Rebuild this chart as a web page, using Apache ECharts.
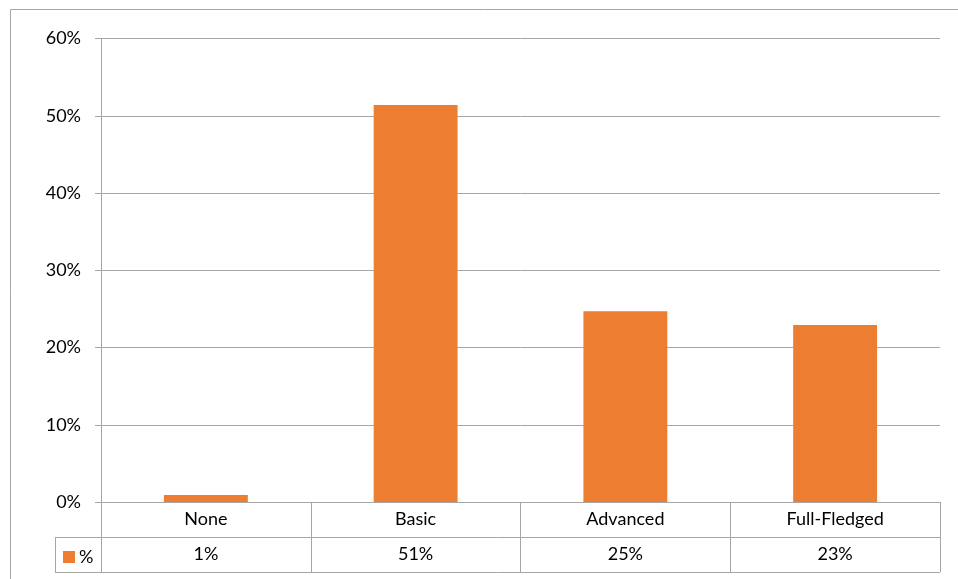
<!DOCTYPE html>
<html>
<head>
<meta charset="utf-8">
<script src="https://cdn.jsdelivr.net/npm/echarts@6/dist/echarts.min.js"></script>
<style>
  html, body { margin: 0; padding: 0; background: #fff; }
  #chart { width: 958px; height: 579px; }
</style>
</head>
<body>
<div id="chart"></div>
<script>
// Share of respondents by level of adoption
const categories = ['None', 'Basic', 'Advanced', 'Full-Fledged'];
const seriesName = '%';
const shares = [0.9, 51.4, 24.7, 22.9];
const yTicks = [0, 10, 20, 30, 40, 50, 60];

const FONT = 'Lato, "Open Sans", sans-serif';
const FS = 18;
const LINE = '#a6a6a6';
const BAR = '#ED7D31';

const chart = echarts.init(document.getElementById('chart'), null, { renderer: 'canvas' });

// Plot area edges (px)
const plotLeft = 101, plotRight = 940, plotTop = 38.5, plotBottom = 502;
const rowH = 35;
const tableLeft = 55;

chart.setOption({
  animation: false,
  backgroundColor: '#fff',
  textStyle: { fontFamily: FONT },
  grid: {
    left: plotLeft,
    right: 958 - plotRight,
    top: plotTop,
    bottom: 579 - plotBottom,
    containLabel: false
  },
  legend: {
    data: [seriesName],
    left: 58,
    top: plotBottom + rowH + 6,
    itemWidth: 12,
    itemHeight: 12,
    itemGap: 4,
    icon: 'rect',
    textStyle: { fontFamily: FONT, fontSize: FS, color: '#000', padding: [0, 0, 0, -1] },
    selectedMode: false
  },
  xAxis: {
    type: 'category',
    data: categories,
    boundaryGap: true,
    axisLine: { show: true, lineStyle: { color: LINE, width: 1 } },
    axisTick: { show: true, length: rowH * 2, lineStyle: { color: LINE, width: 1 } },
    axisLabel: {
      margin: 0,
      interval: 0,
      formatter: function (value, idx) {
        const v = Math.round(shares[idx]);
        return '{c|' + value + '}\n{v|' + v + '%}';
      },
      rich: {
        c: { fontFamily: FONT, fontSize: FS, color: '#000', lineHeight: rowH, height: rowH },
        v: { fontFamily: FONT, fontSize: FS, color: '#000', lineHeight: rowH, height: rowH }
      }
    },
    splitLine: { show: false }
  },
  yAxis: {
    type: 'value',
    min: 0,
    max: 60,
    interval: 10,
    axisLine: { show: true, lineStyle: { color: LINE, width: 1 } },
    axisTick: { show: true, length: 6, lineStyle: { color: LINE, width: 1 } },
    axisLabel: {
      margin: 20,
      fontFamily: FONT,
      fontSize: FS,
      color: '#000',
      formatter: function (v) { return yTicks.indexOf(v) >= 0 ? v + '%' : ''; }
    },
    splitLine: { show: true, lineStyle: { color: LINE, width: 1 } }
  },
  series: [{
    name: seriesName,
    type: 'bar',
    data: shares,
    barWidth: '40%',
    itemStyle: { color: BAR },
    label: { show: false }
  }],
  graphic: [
    // outer chart frame
    {
      type: 'rect',
      shape: { x: 10.5, y: 9.5, width: 1000, height: 700 },
      style: { fill: null, stroke: LINE, lineWidth: 1 },
      silent: true
    },
    // data table: row divider and bottom edge
    {
      type: 'line',
      shape: { x1: tableLeft, y1: plotBottom + rowH + 0.5, x2: plotRight, y2: plotBottom + rowH + 0.5 },
      style: { stroke: LINE, lineWidth: 1 },
      silent: true
    },
    {
      type: 'line',
      shape: { x1: tableLeft, y1: plotBottom + rowH * 2 + 0.5, x2: plotRight, y2: plotBottom + rowH * 2 + 0.5 },
      style: { stroke: LINE, lineWidth: 1 },
      silent: true
    },
    // legend cell left edge
    {
      type: 'line',
      shape: { x1: tableLeft + 0.5, y1: plotBottom + rowH, x2: tableLeft + 0.5, y2: plotBottom + rowH * 2 + 1 },
      style: { stroke: LINE, lineWidth: 1 },
      silent: true
    }
  ]
});
</script>
</body>
</html>
